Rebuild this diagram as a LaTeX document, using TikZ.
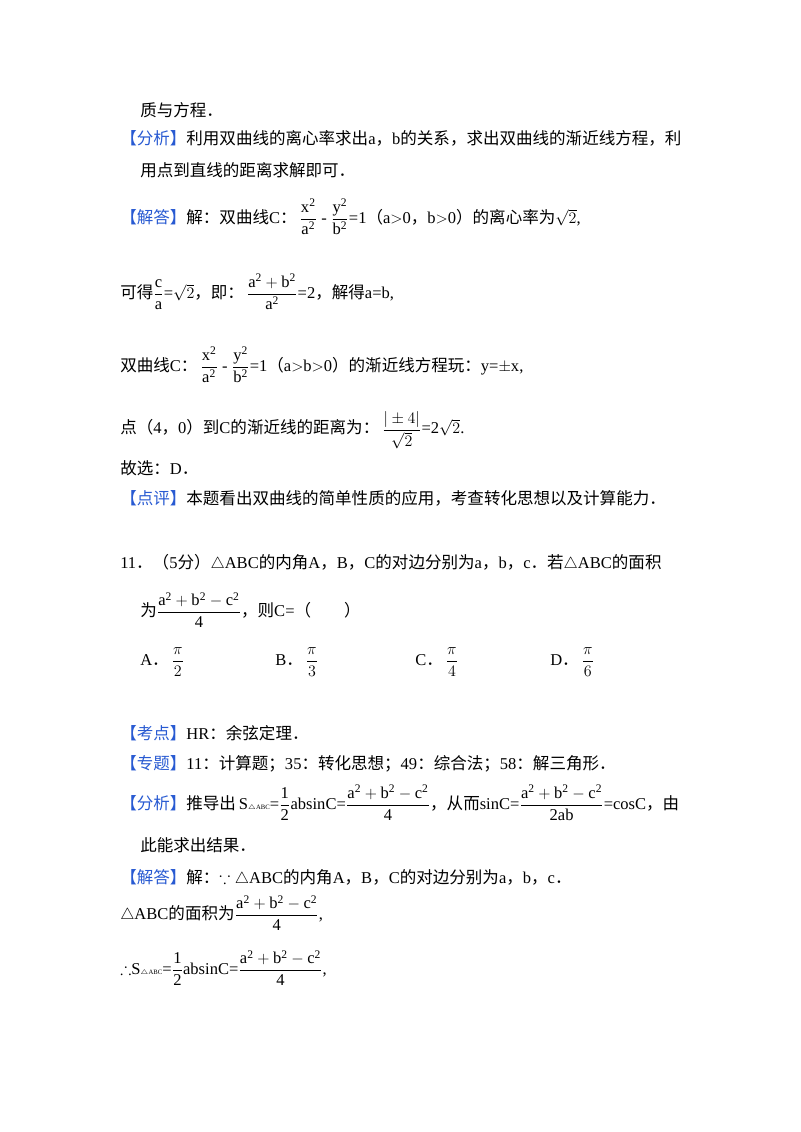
\documentclass[tikz,border=0pt]{standalone}
\usepackage{amsmath,amssymb}
\usepackage{fontspec}
\setmainfont{Liberation Serif}
\newfontfamily\cjk{Noto Sans CJK SC}
\definecolor{tagblue}{RGB}{40,90,210}
\newcommand{\z}[1]{{\cjk #1}}
\newcommand{\tg}[1]{{\cjk\color{tagblue}【#1】}}
\newcommand{\fr}[2]{$\dfrac{\mathrm{#1}}{\mathrm{#2}}$}
\begin{document}
\begin{tikzpicture}[x=0.75pt,y=-0.75pt,
  ln/.style={anchor=west,inner sep=0pt,font=\fontsize{12.4}{14}\selectfont}]
\useasboundingbox (0,0) rectangle (800,1132);
\fill[white] (0,0) rectangle (800,1132);
\node[ln] (l1) at (140,110) {\z{质与方程．}};
\node[ln] (l2) at (120,138) {\tg{分析}\z{利用双曲线的离心率求出}a\z{，}b\z{的关系，求出双曲线的渐近线方程，利}};
\node[ln] (l3) at (140,170) {\z{用点到直线的距离求解即可．}};
\node[ln] (l4) at (120,217) {\tg{解答}\z{解：双曲线}C\z{：}\,\fr{x^2}{a^2} - \fr{y^2}{b^2}=1\z{（}a$>$0\z{，}b$>$0\z{）的离心率为}$\sqrt{2}$,};
\node[ln] (l5) at (120,292) {\z{可得}\fr{c}{a}=$\sqrt{2}$\z{，即：}\,\fr{a^2+b^2}{a^2}=2\z{，解得}a=b,};
\node[ln] (l6) at (120,365) {\z{双曲线}C\z{：}\,\fr{x^2}{a^2} - \fr{y^2}{b^2}=1\z{（}a$>$b$>$0\z{）的渐近线方程玩：}y=$\pm$x,};
\node[ln] (l7) at (120,430) {\z{点（}4\z{，}0\z{）到}C\z{的渐近线的距离为：}\,$\dfrac{|\pm4|}{\sqrt{2}}$=2$\sqrt{2}$.};
\node[ln] (l8) at (120,468) {\z{故选：}D\z{．}};
\node[ln] (l9) at (120,498) {\tg{点评}\z{本题看出双曲线的简单性质的应用，考查转化思想以及计算能力．}};
\node[ln] (l10) at (120,563) {11\z{．（}5\z{分）}$\triangle$ABC\z{的内角}A\z{，}B\z{，}C\z{的对边分别为}a\z{，}b\z{，}c\z{．若}$\triangle$ABC\z{的面积}};
\node[ln] (l11) at (140,610) {\z{为}\fr{a^2+b^2-c^2}{4}\z{，则}C=\z{（　　）}};
\node[ln] (oa) at (140,662) {A\z{．}\,$\dfrac{\pi}{2}$};
\node[ln] (ob) at (275,662) {B\z{．}\,$\dfrac{\pi}{3}$};
\node[ln] (oc) at (415,662) {C\z{．}\,$\dfrac{\pi}{4}$};
\node[ln] (od) at (550,662) {D\z{．}\,$\dfrac{\pi}{6}$};
\node[ln] (l12) at (120,733) {\tg{考点}HR\z{：余弦定理．}};
\node[ln] (l13) at (120,764) {\tg{专题}11\z{：计算题；}35\z{：转化思想；}49\z{：综合法；}58\z{：解三角形．}};
\node[ln] (l14) at (120,803) {\tg{分析}\z{推导出}\,S{\tiny$\triangle$ABC}=\fr{1}{2}absinC=\fr{a^2+b^2-c^2}{4}\z{，从而}sinC=\fr{a^2+b^2-c^2}{2ab}=cosC\z{，由}};
\node[ln] (l15) at (140,845) {\z{此能求出结果．}};
\node[ln] (l16) at (120,878) {\tg{解答}\z{解：}$\because\triangle$ABC\z{的内角}A\z{，}B\z{，}C\z{的对边分别为}a\z{，}b\z{，}c\z{．}};
\node[ln] (l17) at (120,913) {$\triangle$ABC\z{的面积为}\fr{a^2+b^2-c^2}{4},};
\node[ln] (l18) at (120,968) {$\therefore$S{\tiny$\triangle$ABC}=\fr{1}{2}absinC=\fr{a^2+b^2-c^2}{4},};
\end{tikzpicture}
\end{document}
